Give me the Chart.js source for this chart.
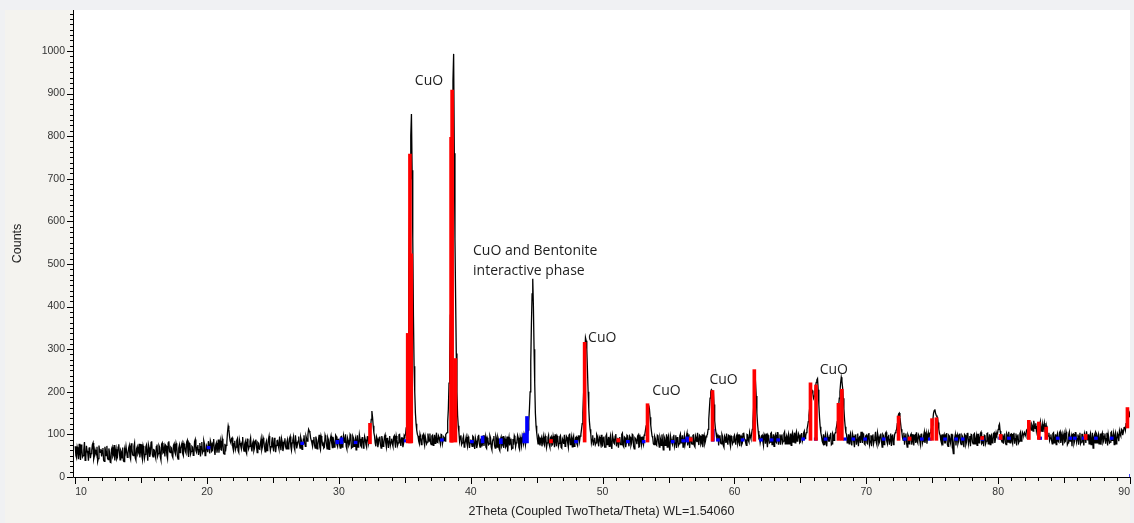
<!DOCTYPE html>
<html>
<head>
<meta charset="utf-8">
<script src="https://cdn.jsdelivr.net/npm/chart.js@4.4.1/dist/chart.umd.min.js"></script>
<style>
  html, body { margin: 0; padding: 0; background: #f0f1f3; }
  #wrap { width: 1134px; height: 523px; }
</style>
</head>
<body>
<div id="wrap"><canvas id="xrd" width="1134" height="523"></canvas></div>
<script>
// Scan grid: 10 to 90 deg 2theta, readings every 0.05 deg
const scanStart = 10;
const scanStep = 0.1;

// Counts at whole 0.1 deg steps, one array per 10 deg block
const counts10 = [
  72, 45, 63, 78, 40, 66, 50, 82, 44, 61, 38, 70, 55, 76, 42, 64, 52, 36, 74, 58,
  48, 68, 37, 60, 73, 41, 58, 34, 70, 52, 39, 65, 46, 77, 40, 59, 69, 36, 57, 72,
  55, 74, 42, 67, 50, 80, 40, 71, 58, 46, 77, 41, 66, 53, 75, 38, 69, 56, 84, 47,
  63, 45, 76, 55, 70, 40, 80, 58, 48, 73, 43, 84, 57, 68, 46, 78, 54, 72, 42, 75,
  66, 80, 50, 73, 56, 86, 47, 76, 60, 70, 52, 88, 58, 75, 64, 48, 82, 61, 78, 53
];
const counts20 = [
  70, 84, 55, 79, 62, 89, 52, 80, 68, 57, 85, 63, 81, 54, 60, 82, 120, 96, 80, 92,
  62, 85, 70, 90, 58, 80, 66, 94, 61, 83, 55, 78, 72, 92, 60, 84, 68, 88, 57, 79,
  65, 90, 71, 86, 59, 84, 68, 96, 62, 80, 70, 92, 58, 85, 73, 95, 63, 82, 69, 91,
  66, 88, 74, 95, 63, 86, 70, 98, 67, 84, 77, 93, 65, 89, 80, 96, 84, 112, 104, 86,
  72, 94, 68, 87, 75, 99, 64, 90, 79, 70, 92, 66, 88, 76, 97, 69, 85, 73, 95, 71
];
const counts30 = [
  90, 68, 95, 74, 88, 100, 66, 86, 78, 97, 70, 92, 82, 64, 98, 75, 89, 71, 94, 77,
  88, 70, 96, 92, 115, 155, 120, 96, 72, 90, 79, 95, 68, 88, 76, 99, 70, 92, 84, 74,
  90, 72, 97, 69, 88, 80, 100, 73, 92, 78, 95, 115, 190, 480, 700, 852, 560, 260, 150, 110,
  96, 78, 92, 84, 100, 74, 95, 82, 90, 102, 76, 98, 85, 79, 104, 81, 93, 77, 99, 86,
  92, 100, 104, 160, 280, 500, 800, 993, 560, 290, 145, 105, 94, 76, 90, 70, 86, 80, 95, 68
];
const counts40 = [
  88, 72, 94, 66, 85, 76, 99, 70, 90, 80, 73, 95, 67, 87, 78, 92, 64, 89, 74, 96,
  70, 88, 62, 94, 76, 68, 90, 73, 60, 93, 82, 66, 89, 97, 71, 84, 92, 65, 86, 95,
  78, 94, 88, 100, 130, 200, 360, 465, 300, 150, 104, 78, 92, 86, 72, 95, 74, 90, 80, 98,
  70, 95, 76, 88, 100, 72, 92, 79, 97, 68, 86, 99, 75, 93, 70, 102, 84, 71, 96, 78,
  94, 74, 98, 96, 112, 150, 230, 327, 300, 200, 130, 102, 88, 74, 92, 80, 96, 72, 90, 99
];
const counts50 = [
  74, 95, 70, 100, 82, 72, 97, 66, 90, 78, 101, 84, 69, 94, 76, 103, 71, 92, 80, 96,
  72, 93, 80, 98, 66, 90, 77, 99, 71, 88, 95, 76, 100, 120, 150, 168, 140, 108, 92, 76,
  90, 74, 96, 70, 88, 100, 64, 92, 79, 70, 97, 62, 88, 76, 99, 80, 68, 94, 78, 101,
  86, 70, 97, 76, 103, 82, 68, 95, 77, 99, 71, 90, 104, 75, 96, 80, 70, 98, 84, 97,
  112, 160, 200, 203, 200, 132, 104, 86, 74, 98, 78, 95, 70, 92, 102, 76, 97, 72, 94, 82
];
const counts60 = [
  98, 76, 100, 84, 72, 96, 80, 104, 88, 74, 99, 82, 95, 102, 130, 190, 220, 150, 108, 95,
  80, 98, 74, 96, 102, 70, 94, 82, 104, 86, 72, 99, 80, 105, 88, 76, 100, 84, 106, 90,
  78, 101, 86, 74, 104, 92, 80, 106, 87, 98, 82, 103, 90, 108, 96, 112, 130, 160, 200, 203,
  185, 200, 222, 231, 170, 118, 96, 80, 76, 100, 72, 94, 84, 104, 78, 98, 100, 112, 130, 165,
  200, 234, 210, 160, 118, 100, 86, 78, 102, 74, 96, 70, 100, 88, 72, 97, 106, 80, 99, 76
];
const counts70 = [
  98, 78, 103, 84, 72, 100, 86, 106, 76, 95, 82, 102, 70, 97, 84, 105, 78, 99, 88, 73,
  100, 84, 104, 112, 140, 150, 126, 104, 86, 76, 102, 70, 96, 80, 101, 86, 74, 98, 105, 80,
  97, 76, 102, 84, 106, 92, 78, 104, 100, 110, 122, 150, 159, 145, 140, 112, 98, 80, 74, 100,
  80, 103, 72, 96, 78, 100, 55, 92, 74, 99, 84, 102, 76, 95, 70, 98, 82, 104, 88, 72,
  99, 78, 102, 86, 74, 100, 88, 105, 80, 72, 97, 84, 103, 86, 76, 99, 82, 104, 90, 98
];
const counts80 = [
  112, 124, 100, 82, 78, 102, 76, 98, 106, 80, 101, 78, 104, 90, 74, 100, 84, 106, 92, 99,
  104, 96, 112, 115, 128, 110, 120, 132, 114, 108, 126, 104, 130, 112, 106, 127, 110, 104, 96, 86,
  100, 78, 104, 88, 76, 102, 82, 107, 92, 74, 103, 84, 98, 80, 106, 88, 72, 101, 84, 105,
  90, 76, 104, 82, 100, 74, 96, 107, 86, 78, 102, 84, 68, 98, 105, 80, 100, 86, 76, 103,
  84, 102, 90, 74, 100, 82, 106, 92, 76, 104, 86, 98, 108, 96, 110, 106, 118, 125, 140, 145,
  140
];

// Counts at the half steps (10.05, 10.15, ...), one array per 10 deg block
const half10 = [
  50, 70, 42, 58, 76, 47, 64, 39, 73, 56, 68, 44, 62, 80, 49, 57, 71, 43, 60, 66,
  62, 39, 71, 50, 44, 67, 35, 65, 48, 75, 55, 42, 70, 57, 63, 45, 38, 64, 72, 46,
  68, 48, 79, 52, 72, 45, 66, 54, 78, 62, 50, 73, 44, 70, 59, 76, 47, 81, 52, 64,
  52, 71, 49, 74, 47, 77, 56, 69, 75, 51, 80, 60, 70, 50, 74, 59, 79, 48, 68, 57,
  75, 55, 78, 60, 82, 58, 79, 54, 72, 51, 83, 62, 70, 52, 80, 71, 57, 85, 50, 74
];
const half20 = [
  58, 72, 85, 60, 81, 63, 75, 57, 88, 74, 64, 90, 56, 78, 74, 105, 112, 84, 90, 70,
  78, 64, 86, 62, 88, 73, 82, 68, 77, 60, 90, 66, 84, 70, 79, 62, 85, 72, 81, 66,
  80, 64, 92, 70, 78, 62, 88, 75, 71, 93, 60, 80, 74, 86, 66, 78, 90, 61, 84, 72,
  82, 66, 90, 72, 80, 94, 64, 82, 76, 95, 68, 86, 74, 98, 72, 90, 100, 108, 92, 80,
  86, 74, 95, 66, 88, 70, 96, 76, 68, 98, 78, 93, 65, 90, 80, 94, 70, 98, 76, 88
];
const half30 = [
  76, 94, 70, 97, 80, 72, 92, 74, 100, 68, 96, 72, 90, 86, 70, 99, 74, 92, 68, 95,
  76, 94, 80, 100, 135, 140, 104, 80, 95, 70, 92, 76, 96, 72, 94, 80, 90, 68, 96, 82,
  78, 94, 80, 96, 74, 99, 82, 92, 70, 98, 100, 150, 320, 600, 800, 720, 380, 200, 125, 100,
  84, 100, 76, 97, 82, 95, 78, 102, 84, 80, 96, 74, 99, 90, 82, 97, 84, 100, 78, 94,
  84, 102, 130, 220, 380, 650, 930, 760, 420, 200, 120, 84, 98, 80, 96, 76, 94, 72, 90, 80
];
const half40 = [
  80, 96, 74, 92, 68, 95, 78, 88, 72, 98, 86, 70, 92, 76, 97, 70, 84, 96, 68, 90,
  94, 66, 89, 72, 96, 84, 70, 95, 82, 74, 90, 68, 76, 92, 80, 98, 70, 93, 74, 86,
  100, 76, 98, 110, 160, 270, 430, 400, 220, 120, 90, 96, 74, 92, 84, 78, 96, 70, 92, 76,
  92, 74, 96, 70, 86, 96, 72, 94, 70, 90, 78, 72, 96, 80, 98, 76, 94, 90, 72, 92,
  78, 96, 84, 100, 125, 190, 290, 320, 250, 160, 112, 80, 98, 86, 76, 100, 84, 94, 80, 72
];
const half50 = [
  92, 70, 96, 76, 94, 90, 74, 98, 80, 96, 72, 92, 88, 76, 100, 74, 94, 70, 98, 82,
  96, 74, 100, 72, 92, 86, 96, 70, 94, 76, 82, 98, 110, 135, 160, 160, 122, 96, 78, 95,
  76, 98, 80, 94, 74, 82, 96, 74, 100, 92, 72, 96, 80, 94, 72, 98, 92, 74, 96, 80,
  98, 86, 76, 96, 74, 100, 90, 78, 98, 74, 96, 82, 84, 98, 76, 100, 92, 78, 94, 100,
  135, 185, 205, 200, 170, 115, 92, 100, 96, 80, 100, 74, 96, 80, 84, 98, 80, 96, 78, 94
];
const half60 = [
  84, 96, 78, 100, 94, 76, 102, 90, 80, 100, 86, 104, 90, 112, 160, 210, 190, 125, 92, 80,
  96, 84, 100, 78, 86, 98, 80, 102, 76, 100, 94, 82, 104, 76, 100, 96, 80, 102, 78, 96,
  94, 78, 102, 98, 82, 104, 100, 84, 102, 80, 100, 84, 104, 90, 104, 120, 145, 180, 205, 195,
  190, 212, 228, 205, 140, 104, 84, 100, 92, 80, 100, 84, 98, 76, 102, 86, 104, 120, 148, 185,
  220, 225, 185, 135, 104, 80, 100, 96, 84, 102, 82, 98, 76, 102, 92, 80, 92, 102, 78, 96
];
const half70 = [
  80, 100, 76, 98, 96, 78, 94, 82, 104, 78, 98, 84, 100, 76, 102, 84, 94, 76, 102, 96,
  76, 100, 108, 125, 148, 140, 112, 92, 104, 96, 80, 100, 78, 98, 76, 100, 96, 80, 84, 100,
  86, 100, 78, 98, 80, 102, 96, 90, 104, 115, 135, 156, 150, 142, 128, 102, 86, 100, 96, 80,
  100, 76, 98, 84, 100, 68, 80, 100, 94, 78, 100, 80, 98, 82, 100, 76, 102, 78, 96, 100,
  82, 100, 78, 96, 100, 80, 102, 78, 96, 98, 78, 102, 78, 100, 96, 80, 102, 80, 104, 102
];
const half80 = [
  120, 108, 86, 100, 96, 80, 102, 82, 92, 100, 84, 100, 78, 102, 96, 80, 102, 84, 104, 98,
  100, 110, 106, 125, 115, 124, 108, 120, 126, 118, 110, 122, 108, 124, 118, 108, 120, 96, 104, 92,
  86, 102, 80, 100, 96, 84, 104, 80, 100, 96, 82, 106, 76, 100, 84, 96, 100, 78, 104, 82,
  100, 96, 78, 100, 84, 102, 80, 94, 100, 96, 76, 104, 92, 80, 102, 94, 78, 102, 98, 80,
  96, 78, 104, 100, 80, 104, 86, 102, 98, 78, 102, 84, 100, 112, 98, 116, 110, 132, 142, 150
];

// CuO reference sticks (red): position, bottom, top
const cuoPos  = [32.47, 35.33, 35.50, 35.60, 38.62, 38.70, 38.95, 46.2, 48.75, 51.3, 53.52, 56.8, 58.45, 61.62,
                 65.88, 66.30, 68.00, 68.26, 72.56, 73.4, 75.10, 75.43, 78.9, 80.30, 82.44, 83.20, 83.76, 86.75, 89.92];
const cuoBase = [78, 80, 80, 80, 82, 82, 82, 80, 82, 82, 82, 84, 84, 84,
                 86, 86, 86, 86, 86, 86, 86, 86, 88, 88, 88, 88, 88, 88, 115];
const cuoTop  = [126, 337, 758, 524, 797, 908, 278, 88, 316, 90, 172, 92, 203, 252,
                 221, 216, 173, 206, 143, 94, 137, 139, 95, 100, 133, 129, 117, 100, 163];

// Bentonite reference sticks (blue): position, bottom, top
const bentPos  = [20.0, 27.1, 29.76, 30.08, 31.15, 34.95, 37.7, 39.97, 40.78, 42.17, 43.94, 44.15, 47.87, 51.8,
                  53.0, 55.2, 56.0, 56.3, 58.25, 58.63, 60.5, 61.9, 62.7, 63.2, 65.1, 66.05, 66.8, 68.26,
                  68.9, 69.8, 71.2, 72.8, 74.1, 74.7, 75.86, 76.7, 77.2, 78.7, 80.04, 80.7, 83.07, 84.4,
                  85.36, 85.7, 86.36, 87.3, 88.5, 89.97];
const bentBase = [66, 76, 78, 78, 78, 82, 84, 80, 80, 78, 80, 80, 80, 80,
                  80, 80, 82, 82, 84, 84, 84, 84, 84, 84, 86, 86, 86, 86,
                  86, 86, 86, 86, 86, 86, 86, 86, 86, 86, 88, 88, 88, 88,
                  88, 88, 88, 88, 88, 0];
const bentTop  = [72, 82, 86, 92, 84, 88, 90, 86, 96, 90, 102, 142, 86, 86,
                  86, 86, 88, 94, 112, 90, 90, 90, 90, 90, 92, 92, 92, 92,
                  92, 92, 92, 92, 92, 92, 92, 92, 92, 92, 94, 94, 94, 94,
                  94, 94, 94, 94, 94, 6];

const xTickLabels = [10, 20, 30, 40, 50, 60, 70, 80, 90];
const yTickLabels = [0, 100, 200, 300, 400, 500, 600, 700, 800, 900, 1000];

const counts = [].concat(counts10, counts20, counts30, counts40, counts50, counts60, counts70, counts80);
const halves = [].concat(half10, half20, half30, half40, half50, half60, half70, half80);
const pattern = [];
counts.forEach((c, i) => {
    const t = scanStart + i * scanStep;
    pattern.push({ x: +t.toFixed(2), y: c });
    if (i < halves.length) pattern.push({ x: +(t + scanStep / 2).toFixed(2), y: halves[i] });
});
const cuoSticks = cuoPos.map((p, i) => ({ x: p, y: [cuoBase[i], cuoTop[i]] }));
const bentSticks = bentPos.map((p, i) => ({ x: p, y: [bentBase[i], bentTop[i]] }));

// Fixed axis box, no extra room for edge labels
function fixBox(size) {
    return function(s) {
        if (s.isHorizontal()) s.height = size; else s.width = size;
        s.paddingLeft = s.paddingRight = s.paddingTop = s.paddingBottom = 0;
    };
}

// Backgrounds, axis lines, tick marks and peak labels
const frameAndNotes = {
    id: 'frameAndNotes',
    beforeDraw(chart) {
        const { ctx, chartArea: a } = chart;
        ctx.save();
        ctx.fillStyle = '#f0f1f3';
        ctx.fillRect(0, 0, chart.width, chart.height);
        ctx.fillStyle = '#f4f3ef';
        ctx.fillRect(5, 10, a.right - 5, chart.height - 10);
        ctx.fillStyle = '#ffffff';
        ctx.fillRect(a.left, a.top, a.right - a.left, a.bottom - a.top);
        ctx.restore();
    },
    afterDraw(chart, args, opts) {
        const { ctx, chartArea: a, scales: { x, y } } = chart;
        ctx.save();
        ctx.strokeStyle = '#000';
        ctx.lineWidth = 1;
        ctx.beginPath();
        ctx.moveTo(a.left + 0.5, a.top);
        ctx.lineTo(a.left + 0.5, a.bottom + 0.5);
        ctx.lineTo(a.right, a.bottom + 0.5);
        // x ticks every 1 deg, longer at 5 and 10
        for (let v = 10; v <= 90; v++) {
            const px = Math.round(x.getPixelForValue(v)) + 0.5;
            const len = v % 10 === 0 ? 7 : (v % 5 === 0 ? 6 : 4);
            ctx.moveTo(px, a.bottom);
            ctx.lineTo(px, a.bottom + len);
        }
        // y ticks: major every 100, minor in between
        for (let v = 0; v <= y.max; v += 12.5) {
            const py = Math.round(y.getPixelForValue(v)) + 0.5;
            const len = v % 100 === 0 ? 6 : 3;
            ctx.moveTo(a.left - len, py);
            ctx.lineTo(a.left, py);
        }
        ctx.stroke();

        ctx.fillStyle = '#1e1e1e';
        ctx.font = '14px "Open Sans"';
        ctx.textAlign = 'left';
        ctx.textBaseline = 'middle';
        opts.notes.forEach(n => {
            ctx.fillText(n.text, x.getPixelForValue(n.x), y.getPixelForValue(n.y));
        });
        ctx.restore();
    }
};

new Chart(document.getElementById('xrd'), {
    type: 'line',
    data: {
        datasets: [{
            type: 'bar',
            label: 'CuO',
            data: cuoSticks,
            backgroundColor: '#ff0000',
            barThickness: 3,
            borderWidth: 0,
            order: 1
        }, {
            type: 'bar',
            label: 'Bentonite',
            data: bentSticks,
            backgroundColor: '#0000ff',
            barThickness: 3,
            borderWidth: 0,
            order: 2
        }, {
            label: 'Counts',
            data: pattern,
            borderColor: '#000000',
            borderWidth: 1.3,
            pointRadius: 0,
            tension: 0,
            fill: false,
            order: 3
        }]
    },
    options: {
        responsive: false,
        animation: false,
        layout: { padding: { left: 0, top: 10, right: 4, bottom: 0 } },
        plugins: {
            legend: { display: false },
            tooltip: { enabled: false },
            frameAndNotes: {
                notes: [
                    { text: 'CuO', x: 35.76, y: 930 },
                    { text: 'CuO and Bentonite', x: 40.17, y: 530 },
                    { text: 'interactive phase', x: 40.17, y: 483 },
                    { text: 'CuO', x: 48.9, y: 326 },
                    { text: 'CuO', x: 53.77, y: 202 },
                    { text: 'CuO', x: 58.1, y: 228 },
                    { text: 'CuO', x: 66.46, y: 251 }
                ]
            }
        },
        scales: {
            x: {
                type: 'linear',
                min: 9.83,
                max: 90,
                offset: false,
                grid: { display: false, drawTicks: false },
                border: { display: false },
                afterFit: fixBox(46),
                afterBuildTicks: s => { s.ticks = xTickLabels.map(v => ({ value: v })); },
                ticks: {
                    padding: 9,
                    align: 'inner',
                    maxRotation: 0,
                    color: '#333333',
                    font: { family: '"Liberation Sans", Arial, sans-serif', size: 10.5 },
                    callback: v => String(v)
                },
                title: {
                    display: true,
                    text: '2Theta (Coupled TwoTheta/Theta) WL=1.54060',
                    color: '#222222',
                    font: { family: '"Liberation Sans", Arial, sans-serif', size: 12.5 },
                    padding: { top: 0, bottom: 4 }
                }
            },
            y: {
                min: 0,
                max: 1096,
                grid: { display: false, drawTicks: false },
                border: { display: false },
                afterFit: fixBox(73),
                afterBuildTicks: s => { s.ticks = yTickLabels.map(v => ({ value: v })); },
                ticks: {
                    padding: 8,
                    color: '#333333',
                    font: { family: '"Liberation Sans", Arial, sans-serif', size: 10.5 },
                    callback: v => String(v)
                },
                title: {
                    display: true,
                    text: 'Counts',
                    color: '#222222',
                    font: { family: '"Liberation Sans", Arial, sans-serif', size: 12.5 },
                    padding: { top: 10, bottom: 0 }
                }
            }
        }
    },
    plugins: [frameAndNotes]
});
</script>
</body>
</html>
